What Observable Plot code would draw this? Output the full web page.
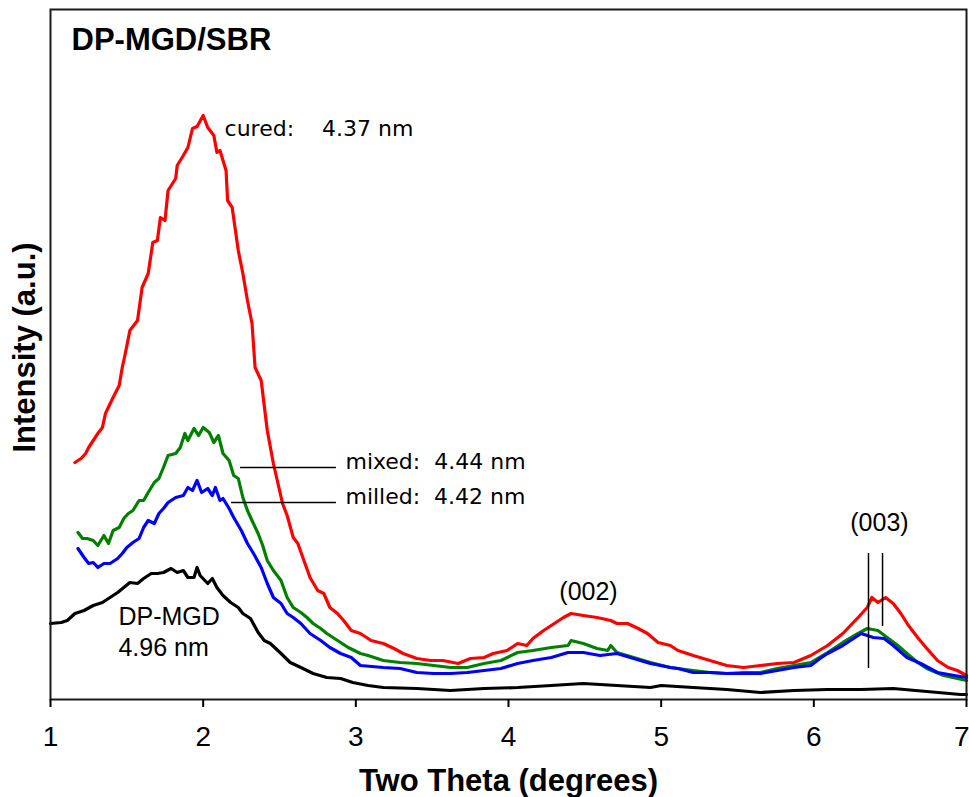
<!DOCTYPE html>
<html>
<head>
<meta charset="utf-8">
<script src="https://cdn.jsdelivr.net/npm/d3@7"></script>
<script src="https://cdn.jsdelivr.net/npm/@observablehq/plot@0.6"></script>
<style>
  html, body { margin: 0; padding: 0; background: #fff; overflow: hidden; }
</style>
</head>
<body>
<div id="chart"></div>
<script>
// XRD patterns of DP-MGD and its SBR composites: [2θ (degrees), intensity (a.u.)]
const cured = [
  [1.16,237],[1.20,241],[1.23,246],[1.25,252],[1.28,259],[1.31,266],[1.34,272],[1.36,286],
  [1.41,302],[1.45,314],[1.47,332],[1.49,346],[1.52,369],[1.57,379],[1.60,412],[1.64,426],
  [1.67,457],[1.70,459],[1.72,482],[1.75,479],[1.77,509],[1.82,521],[1.83,534],[1.87,544],
  [1.90,552],[1.93,571],[1.96,573],[2.00,584],[2.03,572],[2.07,564],[2.09,547],[2.11,549],
  [2.15,529],[2.16,499],[2.19,492],[2.23,449],[2.26,426],[2.29,399],[2.32,376],[2.34,332],
  [2.38,319],[2.42,269],[2.46,236],[2.52,196],[2.55,184],[2.59,162],[2.62,156],[2.66,139],
  [2.70,122],[2.75,109],[2.79,106],[2.83,92],[2.88,86],[2.92,79],[2.97,69],[3.01,67],
  [3.03,66],[3.10,59],[3.18,56],[3.25,51],[3.31,46],[3.40,41],[3.49,39],[3.57,39],
  [3.67,36],[3.75,41],[3.84,42],[3.90,46],[3.99,49],[4.06,56],[4.12,54],[4.16,61],
  [4.23,69],[4.30,76],[4.36,82],[4.41,86],[4.49,84],[4.58,82],[4.67,79],[4.71,76],
  [4.78,76],[4.85,71],[4.91,66],[4.98,57],[5.06,54],[5.11,49],[5.21,44],[5.32,39],
  [5.43,34],[5.54,32],[5.65,34],[5.76,36],[5.87,37],[5.98,44],[6.09,54],[6.19,66],
  [6.29,82],[6.35,92],[6.38,102],[6.42,97],[6.47,102],[6.52,96],[6.57,86],[6.62,74],
  [6.68,62],[6.74,51],[6.81,39],[6.88,32],[6.94,29],[7.00,24]
];
const mixed = [
  [1.18,167],[1.21,161],[1.24,161],[1.28,159],[1.31,154],[1.35,164],[1.38,156],[1.41,169],
  [1.45,172],[1.48,181],[1.51,186],[1.54,189],[1.58,199],[1.61,199],[1.64,207],[1.68,217],
  [1.71,221],[1.74,232],[1.77,244],[1.82,246],[1.85,252],[1.88,266],[1.90,259],[1.94,271],
  [1.97,264],[2.00,272],[2.04,267],[2.07,257],[2.10,264],[2.13,246],[2.17,239],[2.20,224],
  [2.23,221],[2.26,202],[2.29,189],[2.32,179],[2.36,166],[2.39,154],[2.42,139],[2.46,129],
  [2.51,119],[2.55,102],[2.59,92],[2.64,87],[2.68,82],[2.72,76],[2.77,71],[2.81,66],
  [2.88,59],[2.95,52],[3.03,46],[3.08,44],[3.18,39],[3.29,37],[3.40,36],[3.51,34],
  [3.62,32],[3.73,32],[3.84,36],[3.95,39],[4.06,47],[4.16,49],[4.28,52],[4.39,54],
  [4.41,59],[4.49,56],[4.58,51],[4.65,49],[4.67,54],[4.71,47],[4.82,42],[4.93,37],
  [5.06,32],[5.11,31],[5.21,29],[5.32,27],[5.43,26],[5.54,27],[5.65,27],[5.76,31],
  [5.87,34],[5.98,37],[6.09,47],[6.19,57],[6.29,66],[6.35,71],[6.42,69],[6.48,62],
  [6.55,54],[6.61,46],[6.68,37],[6.74,31],[6.85,24],[7.00,19]
];
const milled = [
  [1.18,151],[1.22,142],[1.25,136],[1.28,137],[1.31,132],[1.35,136],[1.39,136],[1.44,141],
  [1.47,146],[1.50,152],[1.54,157],[1.58,161],[1.61,172],[1.64,179],[1.68,176],[1.71,186],
  [1.74,191],[1.77,197],[1.82,202],[1.87,204],[1.90,212],[1.93,209],[1.96,219],[1.99,207],
  [2.03,211],[2.06,204],[2.08,212],[2.11,199],[2.13,201],[2.17,191],[2.20,182],[2.25,169],
  [2.29,156],[2.33,146],[2.38,132],[2.42,116],[2.46,102],[2.51,96],[2.55,86],[2.59,82],
  [2.64,76],[2.70,66],[2.77,59],[2.83,52],[2.90,46],[2.97,42],[3.03,34],[3.18,32],
  [3.29,31],[3.40,27],[3.51,26],[3.62,26],[3.73,27],[3.84,29],[3.95,31],[4.06,36],
  [4.16,39],[4.28,42],[4.39,47],[4.49,47],[4.60,44],[4.71,46],[4.82,41],[4.93,36],
  [5.06,32],[5.11,31],[5.21,27],[5.32,27],[5.43,26],[5.54,26],[5.65,26],[5.76,29],
  [5.87,32],[5.98,34],[6.04,41],[6.09,46],[6.19,54],[6.31,66],[6.39,62],[6.46,61],
  [6.52,54],[6.61,42],[6.70,36],[6.81,27],[6.92,24],[7.00,22]
];
const dpmgd = [
  [1.00,76],[1.07,77],[1.11,79],[1.16,86],[1.22,89],[1.28,94],[1.34,97],[1.39,102],
  [1.44,107],[1.48,112],[1.52,117],[1.57,116],[1.61,121],[1.66,126],[1.70,126],[1.74,127],
  [1.79,131],[1.83,127],[1.87,129],[1.90,122],[1.94,122],[1.96,132],[1.98,124],[2.03,116],
  [2.06,121],[2.09,112],[2.13,104],[2.18,97],[2.23,92],[2.26,86],[2.31,81],[2.36,67],
  [2.40,59],[2.44,56],[2.51,46],[2.57,37],[2.64,32],[2.72,26],[2.81,22],[2.90,21],
  [2.98,17],[3.08,14],[3.18,12],[3.40,11],[3.62,9],[3.84,11],[4.06,12],[4.28,14],
  [4.49,16],[4.71,14],[4.93,12],[5.00,14],[5.21,12],[5.43,10],[5.65,7],[5.87,9],
  [6.09,10],[6.31,10],[6.52,11],[6.74,8],[6.96,5],[7.00,5]
];

const xTicks = [1, 2, 3, 4, 5, 6, 7];
// (003) reflection positions marked with vertical bars
const peak003 = [6.358, 6.450];

const series = [
  {name: "DP-MGD", color: "#000000", data: dpmgd},
  {name: "cured", color: "#ff0000", data: cured},
  {name: "mixed", color: "#008000", data: mixed},
  {name: "milled", color: "#0000ff", data: milled}
];

const sansLabel = "'Liberation Sans', Arial, sans-serif";
const noteFont = "'DejaVu Sans', sans-serif";
const nb = "\u00a0";

const chart = Plot.plot({
  width: 969,
  height: 797,
  marginLeft: 50,
  marginRight: 3,
  marginTop: 9,
  marginBottom: 98,
  style: {fontFamily: sansLabel, background: "#fff", overflow: "visible"},
  x: {domain: [1, 7]},
  y: {domain: [0, 690], axis: null},
  marks: [
    ...series.map(s => Plot.line(s.data, {
      x: d => d[0], y: d => d[1], stroke: s.color, strokeWidth: 3.2,
      strokeLinejoin: "round", curve: "linear"
    })),
    Plot.frame({stroke: "#1a1a1a", strokeWidth: 2}),
    // x ticks; the last tick label is right-aligned so it stays inside the page
    Plot.axisX({ticks: xTicks, tickSize: 8, text: null, label: null, strokeWidth: 2, stroke: "#000"}),
    Plot.text(xTicks.slice(0, -1), {x: d => d, frameAnchor: "bottom", dy: 27, fontSize: 28, lineAnchor: "top", textAnchor: "middle", fill: "#000"}),
    Plot.text(xTicks.slice(-1), {x: d => d, frameAnchor: "bottom", dy: 27, dx: 3, fontSize: 28, lineAnchor: "top", textAnchor: "end", fill: "#000"}),
    // leader lines for the mixed / milled labels
    Plot.ruleY([232], {x1: 2.245, x2: 2.873, stroke: "#000", strokeWidth: 1.5}),
    Plot.ruleY([197], {x1: 2.186, x2: 2.873, stroke: "#000", strokeWidth: 1.5}),
    Plot.ruleX([peak003[0]], {y1: 31, y2: 146, stroke: "#000", strokeWidth: 1.5}),
    Plot.ruleX([peak003[1]], {y1: 73, y2: 146, stroke: "#000", strokeWidth: 1.5}),
    // labels
    Plot.text([`cured:${nb}${nb}${nb} 4.37 nm`], {x: 2.14, y: 564, fontFamily: noteFont, fontSize: 22, textAnchor: "start", lineAnchor: "bottom", fill: "#000"}),
    Plot.text([`mixed:${nb} 4.44 nm`], {x: 2.932, y: 231, fontFamily: noteFont, fontSize: 22, textAnchor: "start", lineAnchor: "bottom", fill: "#000"}),
    Plot.text([`milled:${nb} 4.42 nm`], {x: 2.932, y: 196, fontFamily: noteFont, fontSize: 22, textAnchor: "start", lineAnchor: "bottom", fill: "#000"}),
    Plot.text(["DP-MGD"], {x: 1.445, y: 75, fontSize: 25, textAnchor: "start", lineAnchor: "bottom", fill: "#000"}),
    Plot.text(["4.96 nm"], {x: 1.445, y: 44, fontSize: 25, textAnchor: "start", lineAnchor: "bottom", fill: "#000"}),
    Plot.text(["(002)"], {x: 4.524, y: 100, fontSize: 25, textAnchor: "middle", lineAnchor: "bottom", fill: "#000"}),
    Plot.text(["(003)"], {x: 6.43, y: 169, fontSize: 25, textAnchor: "middle", lineAnchor: "bottom", fill: "#000"}),
    // title and axis titles
    Plot.text(["DP-MGD/SBR"], {frameAnchor: "top-left", dx: 21, dy: 40, fontSize: 31, fontWeight: "bold", textAnchor: "start", lineAnchor: "bottom", fill: "#000"}),
    Plot.text(["Two Theta (degrees)"], {frameAnchor: "bottom", dy: 91, fontSize: 31, fontWeight: "bold", textAnchor: "middle", lineAnchor: "bottom", fill: "#000"}),
    Plot.text(["Intensity (a.u.)"], {frameAnchor: "left", dx: -25, dy: -7, rotate: -90, fontSize: 31, fontWeight: "bold", textAnchor: "middle", lineAnchor: "middle", fill: "#000"})
  ]
});

document.getElementById("chart").appendChild(chart);
</script>
</body>
</html>
